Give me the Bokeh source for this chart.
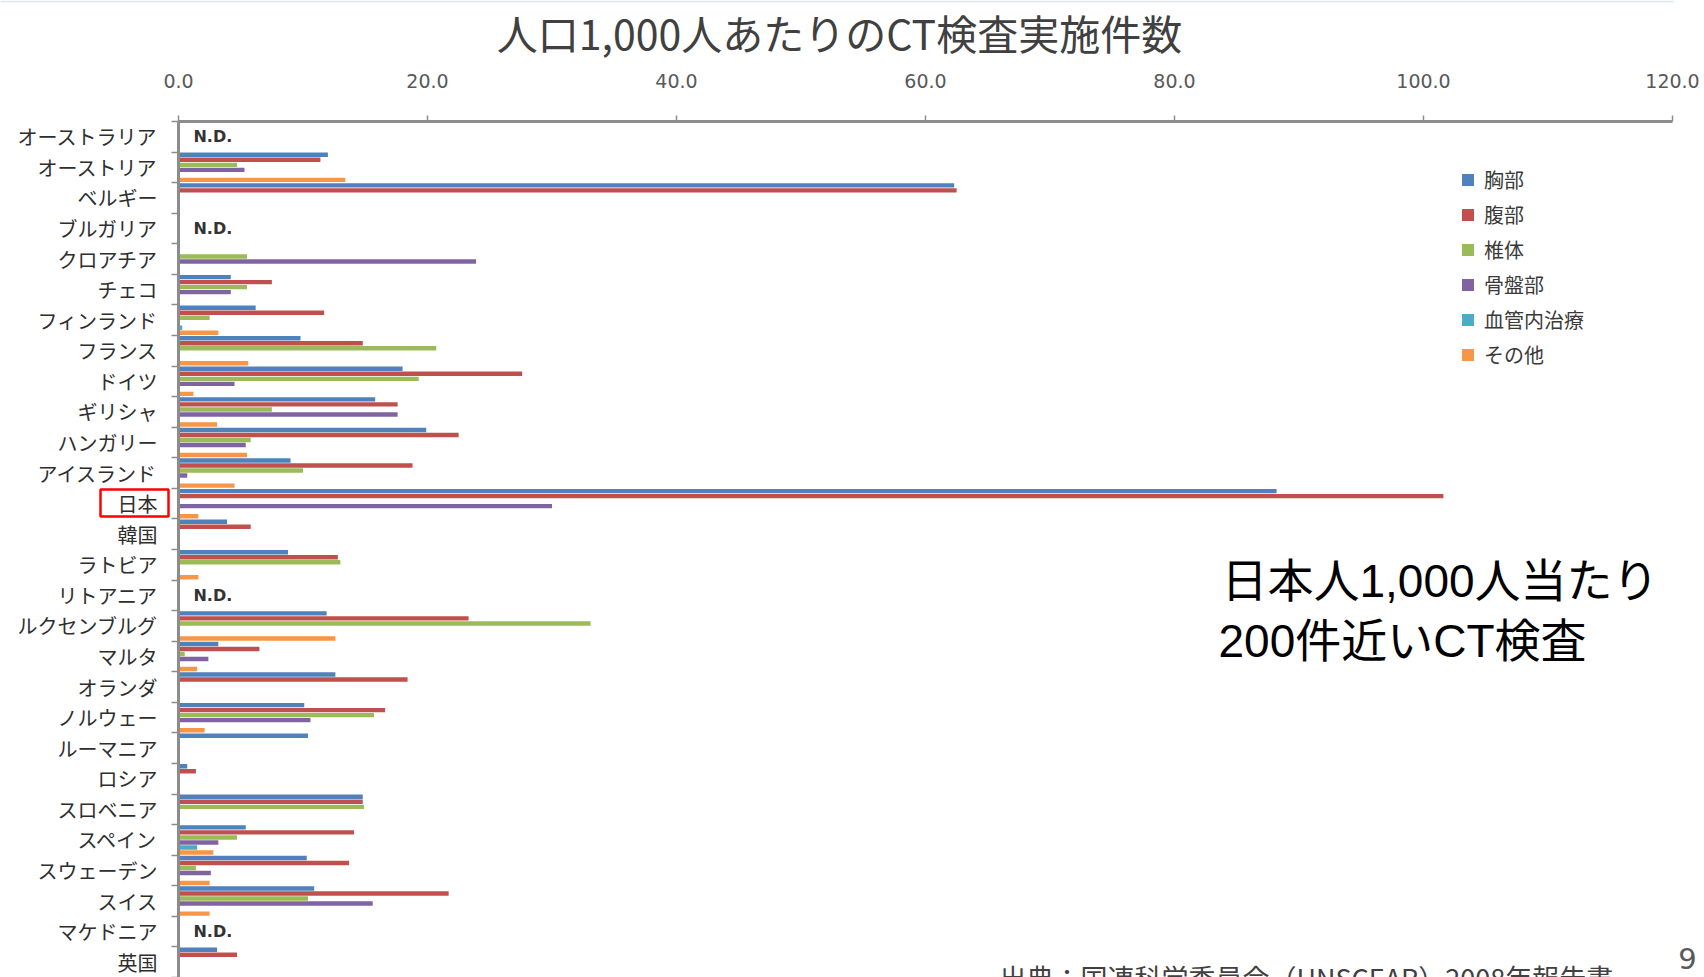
from bokeh.plotting import figure
from bokeh.models import (Range1d, FixedTicker, NumeralTickFormatter, ColumnDataSource,
                          Label, BoxAnnotation, Legend)
from bokeh.transform import dodge
from bokeh.core.properties import value
from bokeh.embed import file_html
from bokeh.resources import INLINE

W, H = 1704, 977
JP = "Noto Sans CJK JP"
JP_LATIN = "Liberation Sans, Noto Sans CJK JP"

# ---- data: CT examinations per 1,000 population, by body region ----
countries = ["オーストラリア", "オーストリア", "ベルギー", "ブルガリア", "クロアチア", "チェコ",
             "フィンランド", "フランス", "ドイツ", "ギリシャ", "ハンガリー", "アイスランド",
             "日本", "韓国", "ラトビア", "リトアニア", "ルクセンブルグ", "マルタ", "オランダ",
             "ノルウェー", "ルーマニア", "ロシア", "スロベニア", "スペイン", "スウェーデン",
             "スイス", "マケドニア", "英国"]

series_names = ["胸部", "腹部", "椎体", "骨盤部", "血管内治療", "その他"]
series_colors = ["#4F81BD", "#C0504D", "#9BBB59", "#8064A2", "#4BACC6", "#F79646"]

N = None
chest    = [N, 12.0, 62.3, N, N, 4.2, 6.2, 9.8, 18.0, 15.8, 19.9, 9.0, 88.2, 3.9, 8.8, N,
            11.9, 3.2, 12.6, 10.1, 10.4, 0.7, 14.8, 5.4, 10.3, 10.9, N, 3.1]
abdomen  = [N, 11.4, 62.5, N, N, 7.5, 11.7, 14.8, 27.6, 17.6, 22.5, 18.8, 101.6, 5.8, 12.8, N,
            23.3, 6.5, 18.4, 16.6, N, 1.4, 14.8, 14.1, 13.7, 21.7, N, 4.7]
spine    = [N, 4.7, N, N, 5.5, 5.5, 2.5, 20.7, 19.3, 7.5, 5.8, 10.0, N, N, 13.0, N,
            33.1, 0.5, N, 15.7, N, N, 14.9, 4.7, 1.4, 10.4, N, N]
pelvis   = [N, 5.3, N, N, 23.9, 4.2, N, N, 4.5, 17.6, 5.4, 0.7, 30.0, N, N, N,
            N, 2.4, N, 10.6, N, N, N, 3.2, 2.6, 15.6, N, N]
vascular = [N, N, N, N, N, N, 0.3, N, N, N, N, N, N, N, N, N,
            N, N, N, N, N, N, N, 1.5, N, N, N, N]
other    = [N, 13.4, N, N, N, N, 3.2, 5.6, 1.2, 3.1, 5.5, 4.5, 1.6, N, 1.6, N,
            12.6, 1.5, N, 2.1, N, N, N, 2.8, 2.5, 2.5, N, N]

series_values = [chest, abdomen, spine, pelvis, vascular, other]
x_min, x_max = 0, 120
x_ticks = [0, 20, 40, 60, 80, 100, 120]

title_text = "人口1,000人あたりのCT検査実施件数"
note_lines = ["日本人1,000人当たり", "200件近いCT検査"]
source_text = "出典：国連科学委員会（UNSCEAR）2008年報告書"
page_no = "9"

# ---- page geometry (pixels) ----
# The plotting frame covers the whole page; the axes are pinned at x=0 / top row
# so that titles, notes and the highlight box can sit anywhere on the page.
n = len(countries)
AX_LEFT, AX_RIGHT, AX_TOP = 178, 1672, 121
px_per_x = (AX_RIGHT - AX_LEFT) / (x_max - x_min)
px_per_row = (H - AX_TOP) / n

x_range = Range1d(x_min - AX_LEFT / px_per_x, x_max + (W - AX_RIGHT) / px_per_x)
y_range = Range1d(n - 0.5, -0.5 - AX_TOP / px_per_row)   # first country at the top

p = figure(width=W, height=H, output_backend="svg", toolbar_location=None,
           x_range=x_range, y_range=y_range, x_axis_location="above",
           min_border=0, min_border_left=0, min_border_right=0,
           min_border_top=0, min_border_bottom=0)
p.title.visible = False
p.xgrid.visible = False
p.ygrid.visible = False
p.outline_line_color = None
p.background_fill_color = "white"
p.border_fill_color = "white"

AX = "#8c8c8c"
xa = p.xaxis[0]
xa.fixed_location = -0.5
xa.bounds = (x_min, x_max)
xa.ticker = FixedTicker(ticks=x_ticks)
xa.formatter = NumeralTickFormatter(format="0.0")
xa.axis_line_color = AX
xa.axis_line_width = 3
xa.major_tick_out = 6
xa.major_tick_in = 0
xa.minor_tick_out = 0
xa.major_tick_line_color = AX
xa.major_tick_line_width = 1.5
xa.major_label_standoff = 28
xa.major_label_text_font = "DejaVu Sans"
xa.major_label_text_font_size = "19px"
xa.major_label_text_color = "#595959"

ya = p.yaxis[0]
ya.fixed_location = x_min
ya.bounds = (-0.5, n - 0.5)
ya.ticker = FixedTicker(ticks=list(range(n)), minor_ticks=[i - 0.5 for i in range(n + 1)])
ya.major_label_overrides = {i: c for i, c in enumerate(countries)}
ya.major_tick_out = 0
ya.major_tick_in = 0
ya.minor_tick_out = 7
ya.minor_tick_in = 0
ya.minor_tick_line_color = AX
ya.minor_tick_line_width = 1.5
ya.axis_line_color = AX
ya.axis_line_width = 3
ya.major_label_standoff = 14
ya.major_label_text_font = JP
ya.major_label_text_font_size = "20px"
ya.major_label_text_color = "#2e2e2e"

# ---- grouped horizontal bars ----
pitch = 0.164
bar_h = 0.145
items = []
for k, (name, color, vals) in enumerate(zip(series_names, series_colors, series_values)):
    rows = [i for i, v in enumerate(vals) if v is not None]
    src = ColumnDataSource(dict(y=rows, v=[vals[i] for i in rows]))
    r = p.hbar(y=dodge("y", (k - 2.5) * pitch), left=0, right="v", height=bar_h,
               source=src, fill_color=color, line_color=None)
    items.append((name, [r]))

# rows without any reported data
nd_rows = [i for i in range(n) if all(s[i] is None for s in series_values)]
p.text(x=[1.2] * len(nd_rows), y=nd_rows, text=["N.D."] * len(nd_rows),
       text_font=value("DejaVu Sans"), text_font_size="16px", text_font_style="bold",
       text_color="#333333", text_align="left", text_baseline="middle")

legend = Legend(items=items, location=(1460, 607), padding=0, margin=0, spacing=3,
                label_height=32, glyph_height=15, glyph_width=15, label_standoff=9,
                label_text_font=JP, label_text_font_size="20px", label_text_color="#3a3a3a",
                border_line_color=None, background_fill_alpha=0)
p.add_layout(legend)

# ---- texts and highlight (page pixels, measured from the top-left corner) ----
def canvas_box(l, r, t, b, **kw):
    return BoxAnnotation(left=l, right=r, top=t, bottom=b,
                         left_units="canvas", right_units="canvas",
                         top_units="canvas", bottom_units="canvas", **kw)

def canvas_label(x, y, text, **kw):
    return Label(x=x, y=y, x_units="canvas", y_units="canvas", text=text, **kw)

p.add_layout(canvas_box(0, 1673, 0, 2, fill_color="#e3e8ef", fill_alpha=1, line_color=None))
p.add_layout(canvas_label(839, 31, title_text, text_align="center", text_baseline="middle",
                          text_font=JP, text_font_size="41px", text_color="#404040"))
p.add_layout(canvas_box(100, 168, 489, 516, fill_color=None, fill_alpha=0,
                        line_color="#ff0000", line_alpha=1, line_width=2.5))
p.add_layout(canvas_label(1221, 580, note_lines[0], text_align="left", text_baseline="middle",
                          text_font=JP_LATIN, text_font_size="46px", text_color="black"))
p.add_layout(canvas_label(1218, 640, note_lines[1], text_align="left", text_baseline="middle",
                          text_font=JP_LATIN, text_font_size="46px", text_color="black"))
p.add_layout(canvas_label(999, 957, source_text, text_align="left", text_baseline="top",
                          text_font=JP, text_font_size="27px", text_color="#404040"))
p.add_layout(canvas_label(1687, 958, page_no, text_align="center", text_baseline="middle",
                          text_font="DejaVu Sans", text_font_size="29px", text_color="#595959"))

open("out.html", "w").write(file_html(p, INLINE))
